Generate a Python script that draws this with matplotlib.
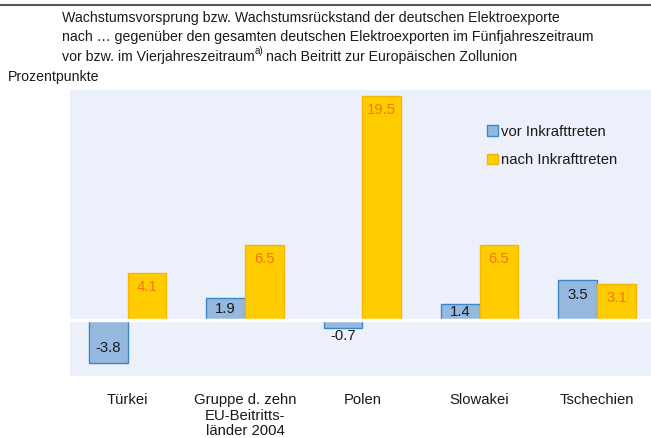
import matplotlib
matplotlib.use('Agg')
import matplotlib.pyplot as plt
import numpy as np

plt.rcParams['font.family'] = ['Liberation Sans', 'DejaVu Sans']

# Daten
laender = ['Türkei', 'Gruppe d. zehn\nEU-Beitritts-\nländer 2004', 'Polen', 'Slowakei', 'Tschechien']
vor = [-3.8, 1.9, -0.7, 1.4, 3.5]
nach = [4.1, 6.5, 19.5, 6.5, 3.1]

blau, blau_rand = '#95b9de', '#3d86c6'
gelb, gelb_rand = '#ffcc00', '#f7b500'
text_col = '#1a1a1a'
fs = 10.7

fig = plt.figure(figsize=(6.51, 4.38), dpi=100)
ax = fig.add_axes([70 / 651, 62 / 438, 581 / 651, 286 / 438])
ax.set_facecolor('#ecf0fa')

x = np.arange(len(laender))
w = 0.33
b1 = ax.bar(x - w / 2, vor, w, color=blau, edgecolor=blau_rand, linewidth=1, label='vor Inkrafttreten', zorder=2)
b2 = ax.bar(x + w / 2, nach, w, color=gelb, edgecolor=gelb_rand, linewidth=1, label='nach Inkrafttreten', zorder=2)

ax.axhline(0, color='white', lw=2.5, zorder=3)

for rect, v in zip(b1, vor):
    xc = rect.get_x() + rect.get_width() / 2
    if v < 0 and abs(v) < 1:
        y, off = v, -8          # kurzer negativer Balken: Wert unterhalb
    elif 0 < v < 2.5:
        y, off = v / 2, 0       # kurzer Balken: Wert mittig
    else:
        y, off = v, (-15 if v > 0 else 15)
    ax.annotate(f'{v:.1f}', (xc, y), xytext=(0, off), textcoords='offset pixels',
                ha='center', va='center', fontsize=fs, color=text_col, zorder=2.5)
for rect, v in zip(b2, nach):
    xc = rect.get_x() + rect.get_width() / 2
    ax.annotate(f'{v:.1f}', (xc, v), xytext=(0, -14), textcoords='offset pixels',
                ha='center', va='center', fontsize=fs, color='#f07a12', zorder=2.5)

ax.set_xlim(-0.49, 4.46)
ax.set_ylim(-4.9, 20.0)
ax.set_xticks(x)
ax.set_xticklabels(laender, fontsize=fs, color=text_col, linespacing=1.17, va='top')
ax.tick_params(axis='x', length=0, pad=12)
ax.set_yticks([])
for s in ax.spines.values():
    s.set_visible(False)

ax.legend(loc='upper left', bbox_to_anchor=(0.695, 0.925), frameon=False, fontsize=fs,
          handlelength=0.7, handleheight=0.7, handletextpad=0.25, labelspacing=0.95,
          labelcolor=text_col)

fig.add_artist(plt.Line2D([0, 1], [1 - 5 / 438, 1 - 5 / 438], color='#555555', lw=1.5))

# Titel
tfs = 10.2
fig.text(62 / 651, 1 - 18 / 438, 'Wachstumsvorsprung bzw. Wachstumsrückstand der deutschen Elektroexporte',
         ha='left', va='center', fontsize=tfs, color=text_col)
fig.text(62 / 651, 1 - 37 / 438, 'nach … gegenüber den gesamten deutschen Elektroexporten im Fünfjahreszeitraum',
         ha='left', va='center', fontsize=tfs, color=text_col)
t3 = fig.text(62 / 651, 1 - 57 / 438, 'vor bzw. im Vierjahreszeitraum',
              ha='left', va='center', fontsize=tfs, color=text_col)
r = fig.canvas.get_renderer()
x3 = t3.get_window_extent(r).x1 / 651
sup = fig.text(x3, 1 - 51 / 438, 'a)', ha='left', va='center', fontsize=7, color=text_col)
x4 = sup.get_window_extent(r).x1 / 651
fig.text(x4 + 3 / 651, 1 - 57 / 438, 'nach Beitritt zur Europäischen Zollunion',
         ha='left', va='center', fontsize=tfs, color=text_col)
fig.text(8 / 651, 1 - 77 / 438, 'Prozentpunkte', ha='left', va='center', fontsize=tfs, color=text_col)

fig.savefig('out.png', dpi=100)
